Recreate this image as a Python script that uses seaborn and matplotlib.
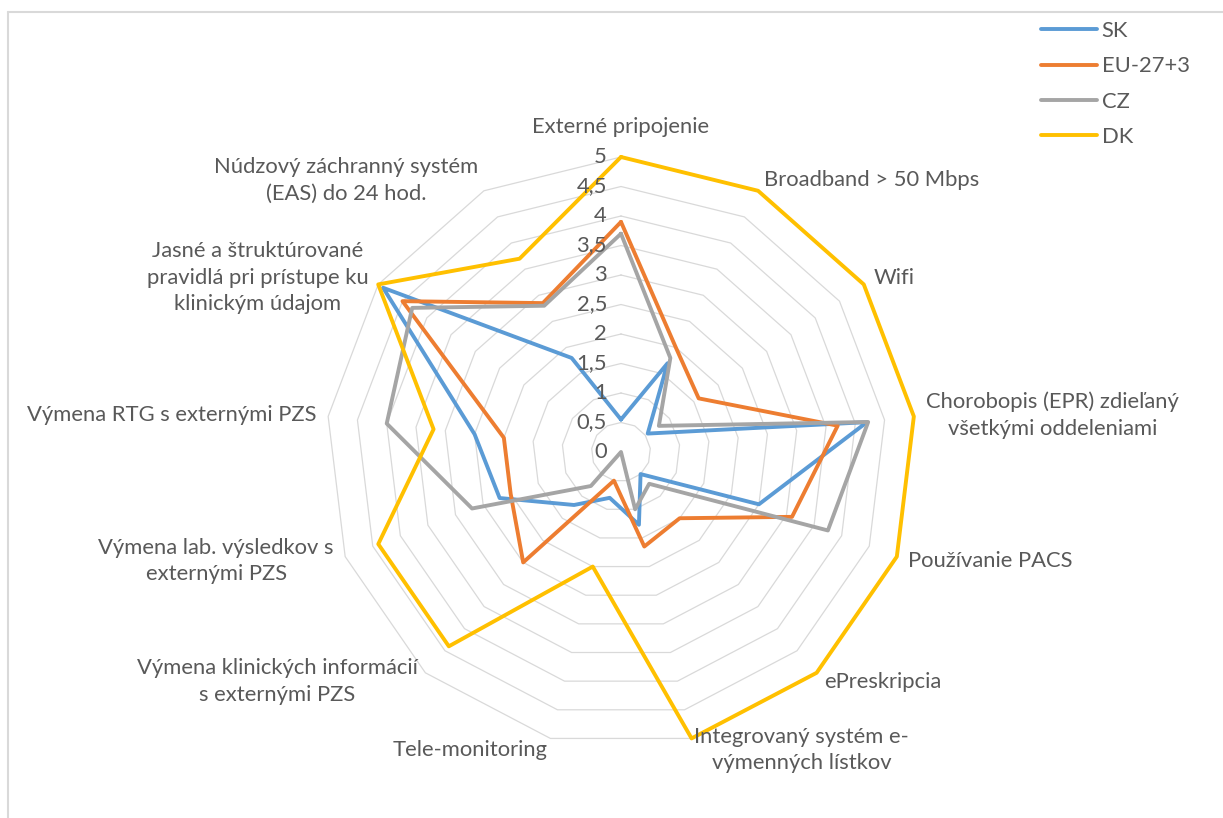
import numpy as np
import pandas as pd
import matplotlib
matplotlib.use("Agg")
import matplotlib.pyplot as plt
from matplotlib.lines import Line2D
import seaborn as sns

# categories clockwise from the top
categories = [
    "Externé pripojenie",
    "Broadband > 50 Mbps",
    "Wifi",
    "Chorobopis (EPR) zdieľaný\nvšetkými oddeleniami",
    "Používanie PACS",
    "ePreskripcia",
    "Integrovaný systém e-\nvýmenných lístkov",
    "Tele-monitoring",
    "Výmena klinických informácií\ns externými PZS",
    "Výmena lab. výsledkov s\nexternými PZS",
    "Výmena RTG s externými PZS",
    "Jasné a štruktúrované\npravidlá pri prístupe ku\nklinickým údajom",
    "Núdzový záchranný systém\n(EAS) do 24 hod.",
]
sk = [0.55, 1.7, 0.55, 4.2, 2.5, 0.5, 1.27, 0.8, 1.2, 2.2, 2.5, 4.9, 1.8]
eu = [3.9, 2.0, 1.6, 3.7, 3.1, 1.5, 1.65, 0.5, 2.5, 2.0, 2.0, 4.5, 2.85]
cz = [3.7, 1.8, 0.78, 4.22, 3.75, 0.72, 1.0, 0.0, 0.77, 2.7, 4.0, 4.3, 2.8]
dk = [5.0, 5.0, 5.0, 5.0, 5.0, 5.0, 5.0, 2.0, 4.4, 4.4, 3.2, 5.0, 3.7]
series_names = ["SK", "EU-27+3", "CZ", "DK"]
series_values = [sk, eu, cz, dk]
colors = ["#5B9BD5", "#ED7D31", "#A5A5A5", "#FFC000"]
ticks = np.arange(0, 5.01, 0.5)
tick_labels = ["0", "0,5", "1", "1,5", "2", "2,5", "3", "3,5", "4", "4,5", "5"]

sns.set_style("white")
plt.rcParams["font.family"] = ["Lato", "DejaVu Sans"]
text_color = "#595959"
fs = 15.8

n = len(categories)
angles = np.linspace(0, 2 * np.pi, n, endpoint=False)

rows = []
for name, vals in zip(series_names, series_values):
    for a, v in zip(angles, vals):
        rows.append((name, a, v))
    rows.append((name, 2 * np.pi, vals[0]))  # close the polygon
df = pd.DataFrame(rows, columns=["series", "angle", "value"])

W, H = 1223, 818
fig = plt.figure(figsize=(W / 100, H / 100), dpi=100)
cx, cy, rad = 621, 452, 295
ax = fig.add_axes([(cx - rad) / W, (H - cy - rad) / H, 2 * rad / W, 2 * rad / H],
                  projection="polar")
ax.set_theta_offset(np.pi / 2)
ax.set_theta_direction(-1)
ax.set_ylim(0, 5)
ax.grid(False)
ax.spines["polar"].set_visible(False)
ax.set_xticks([])
ax.set_yticks([])
ax.set_facecolor("none")

# polygon gridlines
ring_angles = np.append(angles, 2 * np.pi)
for r in ticks[1:]:
    ax.plot(ring_angles, [r] * len(ring_angles), color="#D9D9D9", lw=0.9,
            zorder=1, clip_on=False)

sns.lineplot(data=df, x="angle", y="value", hue="series", hue_order=series_names,
             palette=colors, sort=False, estimator=None, linewidth=2.8, ax=ax,
             zorder=3)
for line in ax.get_lines():
    line.set_clip_on(False)
    line.set_solid_joinstyle("round")

# radial tick labels along the top axis
for r, lab in zip(ticks, tick_labels):
    ax.annotate(lab, xy=(0, r), xytext=(-14, 0), textcoords="offset pixels",
                ha="right", va="center", fontsize=fs, color=text_color,
                annotation_clip=False)

# category labels
d = 12
for a, lab in zip(angles, categories):
    s, c = np.sin(a), np.cos(a)
    if abs(s) < 0.1:
        ha = "center"
        va = "bottom" if c > 0 else "top"
        off = (0, 20 if c > 0 else -d)
    else:
        ha = "left" if s > 0 else "right"
        va = "center"
        off = (d * s, d * c)
    ax.annotate(lab, xy=(a, 5), xytext=off, textcoords="offset pixels",
                ha=ha, va=va, multialignment="center", fontsize=fs,
                color=text_color, annotation_clip=False, linespacing=1.42)

# legend
handles, labels = ax.get_legend_handles_labels()
if ax.get_legend() is not None:
    ax.get_legend().remove()
fig.legend(handles, labels, loc="upper left",
           bbox_to_anchor=(1041 / W, 1 - 21 / H), frameon=False, fontsize=fs,
           handlelength=2.55, handletextpad=0.22, labelspacing=0.7,
           borderpad=0, borderaxespad=0, labelcolor=text_color)

# outer chart frame (top and left edges visible)
fig.add_artist(Line2D([8 / W, 1], [1 - 12 / H] * 2, color="#D9D9D9", lw=1.5))
fig.add_artist(Line2D([8 / W] * 2, [0, 1 - 12 / H], color="#D9D9D9", lw=1.5))

fig.savefig("out.png", dpi=100, facecolor="white")
